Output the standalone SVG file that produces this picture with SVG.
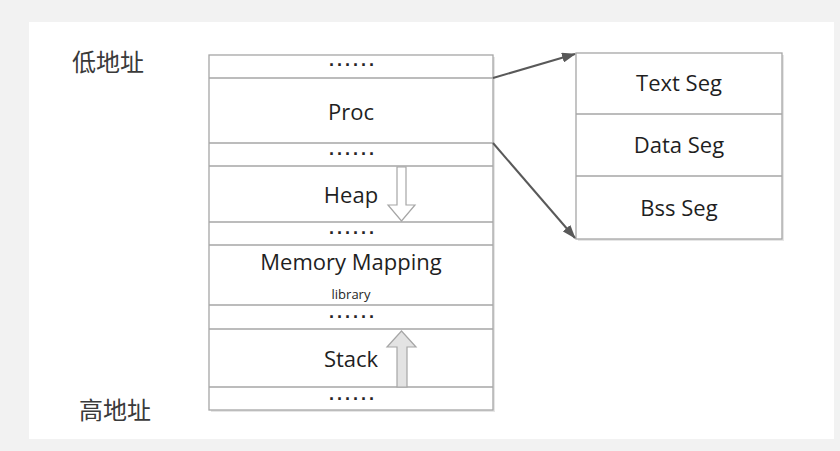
<svg xmlns="http://www.w3.org/2000/svg" width="840" height="451" viewBox="0 0 840 451">
<style>
.frame{fill:#ffffff;stroke:#a6a6a6;stroke-width:1.3}
.div{stroke:#a6a6a6;stroke-width:1.3}
.lbl{font-family:"Open Sans","Liberation Sans",sans-serif;font-size:22px;fill:#1f1f1f;text-anchor:middle}
.sm{font-family:"Open Sans","Liberation Sans",sans-serif;font-size:13px;fill:#1f1f1f;text-anchor:middle}
.dots{font-family:"Liberation Sans",sans-serif;font-size:18px;font-weight:bold;fill:#262626;text-anchor:middle;letter-spacing:2px}
.cjk{font-family:"Noto Sans CJK SC",sans-serif;font-size:24px;fill:#3a3a3a}
.conn{stroke:#595959;stroke-width:2;fill:none}
.shadow{fill:#e6e6e6}
</style>
<defs>
<marker id="ah" viewBox="0 0 14 10" refX="13" refY="5" markerWidth="7" markerHeight="5" orient="auto" markerUnits="strokeWidth">
<path d="M0,0 L14,5 L0,10 Z" fill="#595959"/>
</marker>
</defs>
<rect x="0" y="0" width="840" height="451" fill="#f2f2f2"/>
<rect x="29" y="22" width="805" height="417" fill="#ffffff"/>

<g id="label-low"><text class="cjk" x="72" y="71">低地址</text></g>
<g id="label-high"><text class="cjk" x="79" y="419">高地址</text></g>

<g id="memory-stack">
<rect class="shadow" x="211" y="57" width="284" height="355"/>
<rect class="frame" x="209" y="55" width="284" height="355"/>
<line class="div" x1="209" y1="78" x2="493" y2="78"/>
<line class="div" x1="209" y1="143" x2="493" y2="143"/>
<line class="div" x1="209" y1="166" x2="493" y2="166"/>
<line class="div" x1="209" y1="222" x2="493" y2="222"/>
<line class="div" x1="209" y1="245" x2="493" y2="245"/>
<line class="div" x1="209" y1="305" x2="493" y2="305"/>
<line class="div" x1="209" y1="329" x2="493" y2="329"/>
<line class="div" x1="209" y1="387" x2="493" y2="387"/>
</g>

<g id="row-dots-1"><text class="dots" x="353" y="71">······</text></g>
<g id="node-proc"><text class="lbl" x="351" y="120">Proc</text></g>
<g id="row-dots-2"><text class="dots" x="353" y="160">······</text></g>
<g id="node-heap">
<text class="lbl" x="351" y="203">Heap</text>
<path d="M397,167 L397,205 L388,205 L401.5,221 L415,205 L406,205 L406,167 Z" fill="#ffffff" stroke="#a6a6a6" stroke-width="1.2"/>
</g>
<g id="row-dots-3"><text class="dots" x="353" y="239">······</text></g>
<g id="node-mmap">
<text class="lbl" x="351" y="270">Memory Mapping</text>
<text class="sm" x="351" y="299">library</text>
</g>
<g id="row-dots-4"><text class="dots" x="353" y="323">······</text></g>
<g id="node-stack">
<text class="lbl" x="351" y="367">Stack</text>
<path d="M397,387 L397,347 L387,347 L401.5,331 L416,347 L407,347 L407,387 Z" fill="#e3e3e3" stroke="#a6a6a6" stroke-width="1.2"/>
</g>
<g id="row-dots-5"><text class="dots" x="353" y="405">······</text></g>

<g id="segments">
<rect class="shadow" x="578" y="55" width="206" height="186"/>
<rect class="frame" x="576" y="53" width="206" height="186"/>
<line class="div" x1="576" y1="114" x2="782" y2="114"/>
<line class="div" x1="576" y1="176" x2="782" y2="176"/>
</g>
<g id="node-text-seg"><text class="lbl" x="679" y="91">Text Seg</text></g>
<g id="node-data-seg"><text class="lbl" x="679" y="153">Data Seg</text></g>
<g id="node-bss-seg"><text class="lbl" x="679" y="216">Bss Seg</text></g>

<g id="connectors">
<line class="conn" x1="493" y1="78" x2="575" y2="54" marker-end="url(#ah)"/>
<line class="conn" x1="493" y1="143" x2="575" y2="238" marker-end="url(#ah)"/>
</g>
</svg>
